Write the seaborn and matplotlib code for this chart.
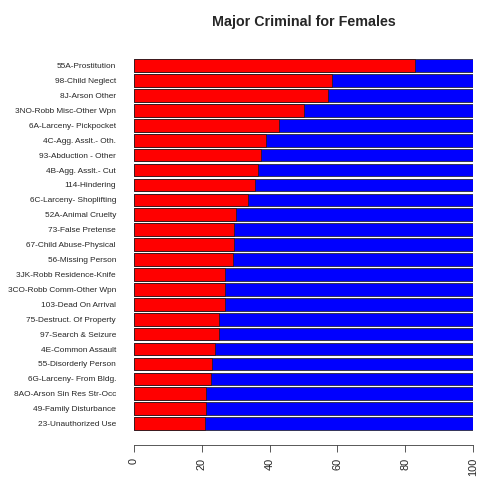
import numpy as np
import pandas as pd
import matplotlib
matplotlib.use("Agg")
import matplotlib.pyplot as plt
import seaborn as sns

# 여성 비율 (%) 상위 범죄 유형
crimes = ['55A-Prostitution', '98-Child Neglect', '8J-Arson Other',
          '3NO-Robb Misc-Other Wpn', '6A-Larceny- Pickpocket',
          '4C-Agg. Asslt.- Oth.', '93-Abduction - Other', '4B-Agg. Asslt.- Cut',
          '114-Hindering', '6C-Larceny- Shoplifting', '52A-Animal Cruelty',
          '73-False Pretense', '67-Child Abuse-Physical', '56-Missing Person',
          '3JK-Robb Residence-Knife', '3CO-Robb Comm-Other Wpn',
          '103-Dead On Arrival', '75-Destruct. Of Property',
          '97-Search & Seizure', '4E-Common Assault', '55-Disorderly Person',
          '6G-Larceny- From Bldg.', '8AO-Arson Sin Res Str-Occ',
          '49-Family Disturbance', '23-Unauthorized Use']
female_pct = [83.0, 58.5, 57.2, 50.0, 42.8, 38.8, 37.5, 36.5, 35.7, 33.6,
              30.0, 29.6, 29.4, 29.2, 26.8, 26.7, 26.7, 25.2, 25.2, 23.8,
              23.0, 22.6, 21.3, 21.2, 20.9]
total_pct = [100] * len(crimes)
xticks = [0, 20, 40, 60, 80, 100]

df = pd.DataFrame({'crime': crimes, 'female': female_pct, 'total': total_pct})

sns.set_style('white')
plt.rcParams['font.family'] = ['Liberation Sans', 'DejaVu Sans']

fig = plt.figure(figsize=(7, 7), dpi=72)
ax = fig.add_axes([134 / 504, 0.1417, (473 - 134) / 504, 0.7458])

sns.barplot(data=df, x='total', y='crime', color='#0000FF', width=0.85,
            edgecolor='#1a1a1a', linewidth=0.7, saturation=1, ax=ax)
sns.barplot(data=df, x='female', y='crime', color='#FF0000', width=0.85,
            edgecolor='#1a1a1a', linewidth=0.7, saturation=1, ax=ax)

ax.set_xlim(0, 100)
ax.set_ylim(len(crimes) - 0.4, -0.6)
ax.set_xlabel('')
ax.set_ylabel('')
ax.set_xticks(xticks)
ax.set_xticklabels([str(t) for t in xticks])
ax.tick_params(axis='y', left=False, length=0, pad=18, labelsize=8.2)
ax.tick_params(axis='x', bottom=True, length=7, width=0.8, pad=6,
               color='#333333', labelrotation=90, labelsize=11)

for s in ['top', 'right', 'left']:
    ax.spines[s].set_visible(False)
ax.spines['bottom'].set_position(('outward', 12))
ax.spines['bottom'].set_color('#333333')
ax.spines['bottom'].set_linewidth(0.8)

fig.suptitle('Major Criminal for Females', x=303.5 / 504, y=1 - 22 / 504,
             va='center', fontsize=14.3, fontweight='bold')

fig.savefig('out.png', dpi=72)
